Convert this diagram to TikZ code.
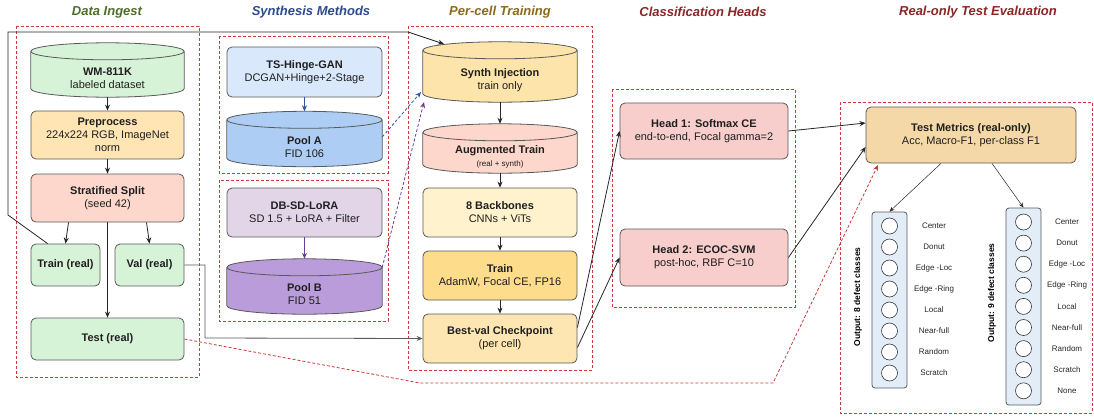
\documentclass[tikz,border=0pt]{standalone}
\usepackage{fontspec}
\setmainfont{Liberation Sans}
\usetikzlibrary{arrows.meta,calc}

\definecolor{edgegray}{HTML}{595959}
\definecolor{groupred}{HTML}{CC3B3B}
\definecolor{ingestfill}{HTML}{D7F3D7}
\definecolor{prepfill}{HTML}{FFE5B4}
\definecolor{splitfill}{HTML}{FDD7CB}
\definecolor{ganfill}{HTML}{DAE8FC}
\definecolor{poolafill}{HTML}{ADCDF4}
\definecolor{dbsdfill}{HTML}{E1D5E7}
\definecolor{poolbfill}{HTML}{B99CD9}
\definecolor{injectfill}{HTML}{FDE4AB}
\definecolor{bbfill}{HTML}{FFF2CC}
\definecolor{trainfill}{HTML}{FDDC8C}
\definecolor{bestfill}{HTML}{FDE6B2}
\definecolor{headfill}{HTML}{F8CECC}
\definecolor{metricfill}{HTML}{F5D8A8}
\definecolor{colfill}{HTML}{E3EDF8}
\definecolor{ingesttitle}{HTML}{4E6E2A}
\definecolor{synthtitle}{HTML}{2E4B8C}
\definecolor{celltitle}{HTML}{8A6A1C}
\definecolor{redtitle}{HTML}{8B2626}
\definecolor{poolablue}{HTML}{2F55A0}
\definecolor{poolbpurple}{HTML}{6A3D9A}

% cylinder outline round an empty node
\newcommand{\dbdraw}[2]{%
  \path[fill=#2, draw=edgegray, line width=0.8pt]
    let \p1=(#1.north west), \p2=(#1.south east), \n1={(\x2-\x1)/2} in
    (\x1,\y1-8.5pt) -- (\x1,\y2+8.5pt)
    arc[start angle=180, end angle=360, x radius=\n1, y radius=8.5pt]
    -- (\x2,\y1-8.5pt)
    arc[start angle=0, end angle=180, x radius=\n1, y radius=8.5pt] -- cycle
    (\x1,\y1-8.5pt) arc[start angle=180, end angle=360, x radius=\n1, y radius=8.5pt];}

\begin{document}
\begin{tikzpicture}[x=1pt, y=-1pt,
    font=\fontsize{11}{13}\selectfont,
    box/.style={draw=edgegray, line width=0.8pt, rounded corners=5pt, align=center, inner sep=2pt, text=black!88},
    db/.style={inner sep=0pt},
    dbtext/.style={align=center, inner sep=1pt, text=black!88},
    group/.style={draw=groupred, line width=0.9pt, dash pattern=on 3pt off 2pt},
    title/.style={font=\fontsize{13}{15}\selectfont\bfseries\itshape},
    arr/.style={-{Stealth[length=6pt,width=5pt]}, line width=0.8pt, draw=black!85},
    thinarr/.style={-{Stealth[length=5pt,width=4pt]}, line width=0.5pt, draw=black!85},
    unit/.style={circle, draw=black!80, line width=0.6pt, fill=white, minimum size=16pt, inner sep=0pt},
    cls/.style={font=\fontsize{8}{9}\selectfont, text=black!85},
    colbox/.style={draw=edgegray, line width=0.8pt, rounded corners=3pt, fill=colfill, minimum width=35pt}
]
    \useasboundingbox (0,0) rectangle (1094,418);

    % group frames
    \draw[group] (16,26) rectangle (199,377);
    \draw[group] (219,36) rectangle (388,173);
    \draw[group] (219,180) rectangle (388,321);
    \draw[group] (408,26) rectangle (592,370);
    \draw[group] (612,89) rectangle (795,307);
    \draw[group] (840,102) rectangle (1092,413);

    \node[title, text=ingesttitle] (tingest) at (107,12) {Data Ingest};
    \node[title, text=synthtitle]  (tsynth)  at (311,12) {Synthesis Methods};
    \node[title, text=celltitle]   (tcell)   at (500,12) {Per-cell Training};
    \node[title, text=redtitle]    (theads)  at (703,12) {Classification Heads};
    \node[title, text=redtitle]    (teval)   at (978,12) {Real-only Test Evaluation};

    % data ingest
    \node[db, minimum width=153pt, minimum height=54pt] (wm) at (107.5,70) {};
    \dbdraw{wm}{ingestfill}
    \node[dbtext] (wmtext) at ([yshift=-8pt]wm.center) {\textbf{WM-811K}\\labeled dataset};
    \node[box, fill=prepfill, minimum width=153pt, minimum height=48pt] (prep) at (107.5,135) {\textbf{Preprocess}\\224x224 RGB, ImageNet\\norm};
    \node[box, fill=splitfill, minimum width=153pt, minimum height=48pt] (split) at (107.5,198) {\textbf{Stratified Split}\\(seed 42)};
    \node[box, fill=ingestfill, minimum width=69pt, minimum height=42pt] (trainr) at (65.5,265) {\textbf{Train (real)}};
    \node[box, fill=ingestfill, minimum width=69pt, minimum height=42pt] (valr) at (149.5,265) {\textbf{Val (real)}};
    \node[box, fill=ingestfill, minimum width=153pt, minimum height=42pt] (testr) at (107.5,339) {\textbf{Test (real)}};

    % synthesis
    \node[box, fill=ganfill, minimum width=155pt, minimum height=50pt] (gan) at (304.5,72) {\textbf{TS-Hinge-GAN}\\DCGAN+Hinge+2-Stage};
    \node[db, minimum width=155pt, minimum height=55pt] (poola) at (304.5,139) {};
    \dbdraw{poola}{poolafill}
    \node[dbtext] (poolatext) at ([yshift=-8pt]poola.center) {\textbf{Pool A}\\FID 106};
    \node[box, fill=dbsdfill, minimum width=155pt, minimum height=49pt] (dbsd) at (304.5,212.5) {\textbf{DB-SD-LoRA}\\SD 1.5 + LoRA + Filter};
    \node[db, minimum width=155pt, minimum height=55pt] (poolb) at (304.5,286.5) {};
    \dbdraw{poolb}{poolbfill}
    \node[dbtext] (poolbtext) at ([yshift=-8pt]poolb.center) {\textbf{Pool B}\\FID 51};

    % per-cell training
    \node[db, minimum width=154pt, minimum height=60pt] (inject) at (500,72) {};
    \dbdraw{inject}{injectfill}
    \node[dbtext] (injecttext) at ([yshift=-8pt]inject.center) {\textbf{Synth Injection}\\train only};
    \node[db, minimum width=154pt, minimum height=49pt] (aug) at (500,148.5) {};
    \dbdraw{aug}{splitfill}
    \node[dbtext] (augtext) at ([yshift=-8pt]aug.center) {\textbf{Augmented Train}\\{\fontsize{8}{10}\selectfont(real + synth)}};
    \node[box, fill=bbfill, minimum width=154pt, minimum height=49pt] (bb) at (500,212.5) {\textbf{8 Backbones}\\CNNs + ViTs};
    \node[box, fill=trainfill, minimum width=154pt, minimum height=49pt] (train) at (500,275.5) {\textbf{Train}\\AdamW, Focal CE, FP16};
    \node[box, fill=bestfill, minimum width=154pt, minimum height=49pt] (best) at (500,338.5) {\textbf{Best-val Checkpoint}\\(per cell)};

    % heads
    \node[box, fill=headfill, minimum width=168pt, minimum height=56pt] (head1) at (704,131) {\textbf{Head 1: Softmax CE}\\end-to-end, Focal gamma=2};
    \node[box, fill=headfill, minimum width=168pt, minimum height=57pt] (head2) at (704,257.5) {\textbf{Head 2: ECOC-SVM}\\post-hoc, RBF C=10};

    % evaluation
    \node[box, fill=metricfill, minimum width=210pt, minimum height=56pt] (metrics) at (971,135) {\textbf{Test Metrics (real-only)}\\Acc, Macro-F1, per-class F1};
    \node[colbox, minimum height=176pt] (col1) at (889.5,300) {};
    \node[colbox, minimum height=197pt] (col2) at (1023.5,306.5) {};
    \foreach \i/\name in {0/Center,1/Donut,2/Edge -Loc,3/Edge -Ring,4/Local,5/Near-full,6/Random,7/Scratch} {
        \node[unit] (ua\i) at (889.5,{226+21*\i}) {};
        \node[cls] (la\i) at (934,{226+21*\i}) {\name};
    }
    \foreach \i/\name in {0/Center,1/Donut,2/Edge -Loc,3/Edge -Ring,4/Local,5/Near-full,6/Random,7/Scratch,8/None} {
        \node[unit] (ub\i) at (1023.5,{222+21.1*\i}) {};
        \node[cls] (lb\i) at (1067,{222+21.1*\i}) {\name};
    }
    \node[rotate=90, font=\fontsize{8.5}{10}\selectfont\bfseries] (out1) at (858,297) {Output: 8 defect classes};
    \node[rotate=90, font=\fontsize{8.5}{10}\selectfont\bfseries] (out2) at (992,293) {Output: 9 defect classes};

    % free ends
    \coordinate (loopa) at (8,215);
    \coordinate (loopb) at (8,32);
    \coordinate (loopc) at (408,32);
    \coordinate (injtop) at (444,44);
    \coordinate (injla) at (421,92);
    \coordinate (injlb) at (424,102);
    \coordinate (valbend) at (205,338);
    \coordinate (testa) at (420,383);
    \coordinate (testb) at (773,383);
    \coordinate (metin) at (878,165);

    % connectors
    \draw[arr] (wm.south) -- (prep.north);
    \draw[arr] (prep.south) -- (split.north);
    \draw[arr] ([xshift=3pt]trainr.north |- split.south) -- (trainr.north);
    \draw[arr] ([xshift=-3pt]valr.north |- split.south) -- (valr.north);
    \draw[arr] (split.south) -- (testr.north);
    \draw[arr] ([xshift=17pt]trainr.north west) -- (loopa) -- (loopb) -- (loopc) -- (injtop);
    \draw[arr, draw=edgegray] (valr.east) -| (valbend) -- (best.west);
    \draw[arr, draw=groupred, dash pattern=on 3pt off 2pt] (testr.east) -- (testa) -- (testb) -- (metin);

    \draw[arr, draw=poolablue] (gan.south) -- (poola.north);
    \draw[arr, draw=poolbpurple] (dbsd.south) -- (poolb.north);
    \draw[arr, draw=poolablue, dash pattern=on 3pt off 2pt] ([yshift=2pt]poola.east) -- (injla);
    \draw[arr, draw=poolbpurple, dash pattern=on 3pt off 2pt] ([yshift=19pt]poolb.east) -- (injlb);

    \draw[arr] (inject.south) -- (aug.north);
    \draw[arr] (aug.south) -- (bb.north);
    \draw[arr] (bb.south) -- (train.north);
    \draw[arr] (train.south) -- (best.north);

    \draw[arr] ([yshift=11pt]best.east) -- (head1.west);
    \draw[arr] ([yshift=-9pt]best.east) -- (head2.west);
    \draw[arr] (head1.east) -- ([yshift=12pt]metrics.west);
    \draw[arr] (head2.east) -- ([yshift=-12pt]metrics.west);

    \draw[thinarr] ([xshift=-30pt]metrics.south) -- (col1.north);
    \draw[thinarr] ([xshift=21pt]metrics.south) -- (col2.north);
\end{tikzpicture}
\end{document}
